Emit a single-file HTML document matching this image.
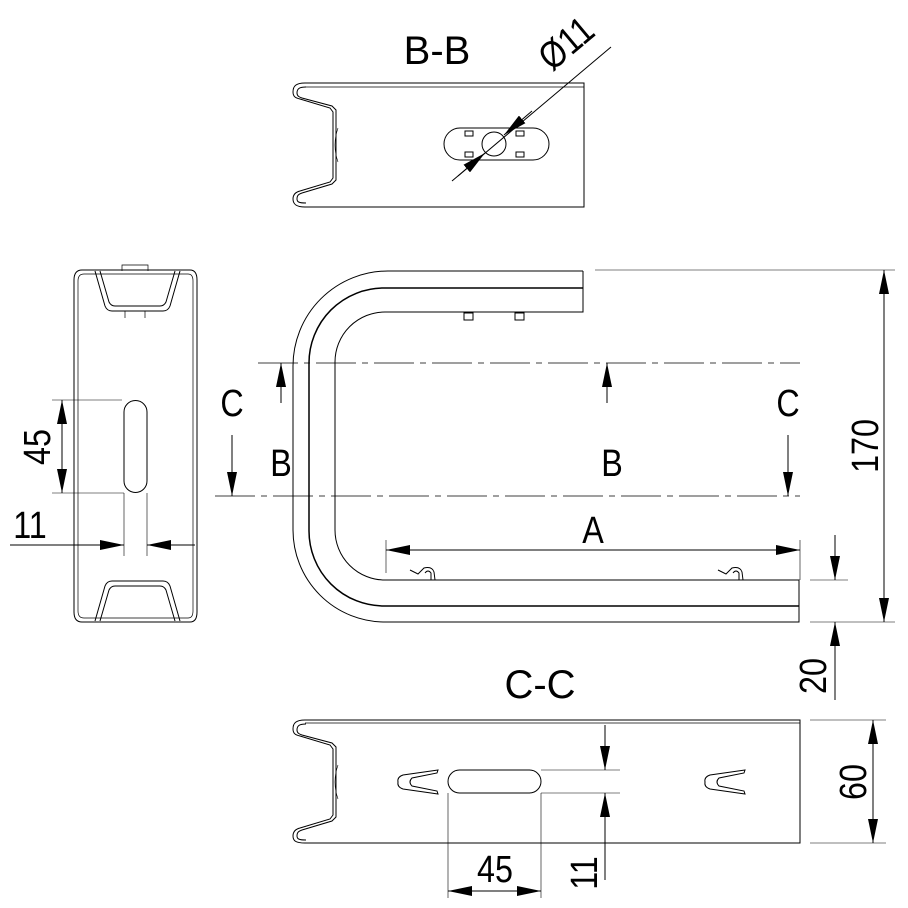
<!DOCTYPE html>
<html><head><meta charset="utf-8"><style>
html,body{margin:0;padding:0;background:#fff;}
svg{display:block;}
text{font-family:"Liberation Sans",sans-serif;fill:#000;}
</style></head><body>
<svg width="908" height="908" viewBox="0 0 908 908" xmlns="http://www.w3.org/2000/svg">
<defs>
<marker id="ar" viewBox="0 0 24 10" refX="24" refY="5" markerWidth="24" markerHeight="10" markerUnits="userSpaceOnUse" orient="auto"><path d="M0,0 L24,5 L0,10 Z" fill="#000"/></marker>
</defs>
<g fill="none" stroke="#000" stroke-width="1">

<!-- B-B view -->
<path d="M305,83 H584 V207 H305"/>
<path d="M305,87 H584" stroke-width="0.8"/>
<path d="M305,83 C296,83 293,86 293,92 C293,97 296,98 300,99 L330,108 L333,112 V178 L330,182 L300,191 C296,192 293,194 293,199 C293,204 296,207 305,207"/>
<path d="M306,87 C299,87 297,89 297,93 C297,96 299,97 302,98 L332,106 L336,110 V180 L332,184 L302,193 C299,194 297,195 297,199 C297,202 299,203 306,203"/>
<path d="M338,128 Q332,145 338,162" stroke-width="0.6"/>
<path d="M460,128 H533 A16,16 0 0 1 533,160 H460 A16,16 0 0 1 460,128 Z"/>
<rect x="465" y="131" width="8" height="5"/><rect x="465" y="152" width="8" height="5"/>
<rect x="516" y="131" width="8" height="5"/><rect x="516" y="152" width="8" height="5"/>
<circle cx="494" cy="144" r="12"/>
<line x1="452" y1="181" x2="611" y2="47"/>
<line x1="532" y1="111" x2="504" y2="135" marker-end="url(#ar)"/>
<line x1="458" y1="176" x2="485" y2="153" marker-end="url(#ar)"/>

<!-- Main U -->
<path d="M583,271 H388 A95,95 0 0 0 293,366 V530 A92,92 0 0 0 385,622 H799 V580 H385 A50,50 0 0 1 335,530 V362 A50,50 0 0 1 385,312 H583 V271"/>
<path d="M583,288 H384 A75,75 0 0 0 309,363 V531 A75,75 0 0 0 384,606 H799" stroke-width="1.5"/>
<rect x="464" y="313" width="9" height="7"/><rect x="515" y="313" width="9" height="7"/>
<path d="M410,570 L418,574 L424,568 Q432,566 434,572 L435,580 M425,573 Q428,569 431,573 L431,580"/>
<path d="M718,570 L726,574 L732,568 Q740,566 742,572 L743,580 M733,573 Q736,569 739,573 L739,580"/>
<path d="M258,363 H800" stroke-dasharray="40,6,6,6" stroke-width="0.8"/>
<path d="M215,496 H800" stroke-dasharray="40,6,6,6" stroke-width="0.8"/>
<line x1="281" y1="403" x2="281" y2="363" marker-end="url(#ar)"/>
<line x1="607" y1="403" x2="607" y2="363" marker-end="url(#ar)"/>
<line x1="232" y1="435" x2="232" y2="496" marker-end="url(#ar)"/>
<line x1="788" y1="435" x2="788" y2="496" marker-end="url(#ar)"/>
<!-- A -->
<line x1="386" y1="540" x2="386" y2="573" stroke-width="0.6"/>
<line x1="800" y1="540" x2="800" y2="580" stroke-width="0.6"/>
<line x1="593" y1="550" x2="386" y2="550" marker-end="url(#ar)"/>
<line x1="593" y1="550" x2="800" y2="550" marker-end="url(#ar)"/>
<!-- 170 -->
<line x1="595" y1="270" x2="895" y2="270" stroke-width="0.6"/>
<line x1="810" y1="622" x2="895" y2="622" stroke-width="0.6"/>
<line x1="884" y1="446" x2="884" y2="270" marker-end="url(#ar)"/>
<line x1="884" y1="446" x2="884" y2="622" marker-end="url(#ar)"/>
<!-- 20 -->
<line x1="810" y1="580" x2="848" y2="580" stroke-width="0.6"/>
<line x1="835" y1="535" x2="835" y2="580" marker-end="url(#ar)"/>
<line x1="835" y1="700" x2="835" y2="622" marker-end="url(#ar)"/>

<!-- Left view -->
<path d="M82,270 H190 Q197,270 197,280 V612 Q197,622 190,622 H82 Q74,622 74,612 V280 Q74,270 82,270 Z"/>
<path d="M84,274 H188 Q193,274 193,281 V611 Q193,618 188,618 H84 Q78,618 78,611 V281 Q78,274 84,274 Z" stroke-width="0.7"/>
<path d="M95,271 L105,306 Q107,311 112,311 H163 Q168,311 170,306 L180,271"/>
<path d="M100,271 L109,302 Q111,306 115,306 H160 Q164,306 166,302 L175,271"/>
<path d="M122,271 V265 H148 V271" stroke-width="0.7"/>
<path d="M125,311 V318 M145,311 V318" stroke-width="0.7"/>
<path d="M95,621 L105,586 Q107,581 112,581 H163 Q168,581 170,586 L180,621"/>
<path d="M100,621 L109,590 Q111,586 115,586 H160 Q164,586 166,590 L175,621"/>
<path d="M124,412 A11.5,11.5 0 0 1 147,412 V481 A11.5,11.5 0 0 1 124,481 Z"/>
<line x1="52" y1="400" x2="122" y2="400" stroke-width="0.6"/>
<line x1="52" y1="493" x2="124" y2="493" stroke-width="0.6"/>
<line x1="124" y1="493" x2="124" y2="556" stroke-width="0.6"/>
<line x1="147" y1="493" x2="147" y2="556" stroke-width="0.6"/>
<line x1="62" y1="446" x2="62" y2="400" marker-end="url(#ar)"/>
<line x1="62" y1="446" x2="62" y2="493" marker-end="url(#ar)"/>
<line x1="10" y1="545" x2="124" y2="545" marker-end="url(#ar)"/>
<line x1="195" y1="545" x2="147" y2="545" marker-end="url(#ar)"/>

<!-- C-C view -->
<path d="M305,720 H800 V843 H305"/>
<path d="M305,723 H800" stroke-width="0.7"/>
<path d="M305,720 C296,720 293,723 293,729 C293,734 296,735 300,736 L330,745 L333,749 V815 L330,819 L300,828 C296,829 293,831 293,836 C293,841 296,843 305,843"/>
<path d="M306,724 C299,724 297,726 297,730 C297,733 299,734 302,735 L332,743 L336,747 V817 L332,821 L302,830 C299,831 297,832 297,836 C297,839 299,840 306,840"/>
<path d="M338,765 Q332,782 338,799" stroke-width="0.6"/>
<path d="M438,770 L403,775 Q397,777 398,782 Q397,787 403,789 L438,794 L437,791 L412,786 Q408,782 412,778 L437,773 Z"/>
<path d="M745,770 L710,775 Q704,777 705,782 Q704,787 710,789 L745,794 L744,791 L719,786 Q715,782 719,778 L744,773 Z"/>
<path d="M459.5,770 H529.5 A11.5,11.5 0 0 1 529.5,793 H459.5 A11.5,11.5 0 0 1 459.5,770 Z"/>
<line x1="541" y1="770" x2="620" y2="770" stroke-width="0.6"/>
<line x1="541" y1="793" x2="620" y2="793" stroke-width="0.6"/>
<line x1="448" y1="793" x2="448" y2="898" stroke-width="0.6"/>
<line x1="541" y1="793" x2="541" y2="898" stroke-width="0.6"/>
<line x1="495" y1="891" x2="448" y2="891" marker-end="url(#ar)"/>
<line x1="495" y1="891" x2="541" y2="891" marker-end="url(#ar)"/>
<line x1="605" y1="725" x2="605" y2="770" marker-end="url(#ar)"/>
<line x1="605" y1="880" x2="605" y2="793" marker-end="url(#ar)"/>
<line x1="810" y1="720" x2="886" y2="720" stroke-width="0.6"/>
<line x1="810" y1="843" x2="886" y2="843" stroke-width="0.6"/>
<line x1="873" y1="782" x2="873" y2="720" marker-end="url(#ar)"/>
<line x1="873" y1="782" x2="873" y2="843" marker-end="url(#ar)"/>
</g>

<g font-size="40">
<text x="437" y="64" text-anchor="middle">B-B</text>
<text x="540" y="698" text-anchor="middle">C-C</text>
</g>
<g font-size="38">
<text transform="translate(552 72) rotate(-40) scale(0.85 1)">Ø11</text>
<text text-anchor="middle" transform="translate(281 476) scale(0.85 1)">B</text>
<text text-anchor="middle" transform="translate(612 476) scale(0.85 1)">B</text>
<text text-anchor="middle" transform="translate(232 416) scale(0.85 1)">C</text>
<text text-anchor="middle" transform="translate(788 416) scale(0.85 1)">C</text>
<text text-anchor="middle" transform="translate(593 543) scale(0.85 1)">A</text>
<text text-anchor="middle" transform="translate(30 538) scale(0.85 1)">11</text>
<text text-anchor="middle" transform="translate(495 882) scale(0.85 1)">45</text>
<text transform="translate(50 447) rotate(-90) scale(0.85 1)" text-anchor="middle">45</text>
<text transform="translate(878 446) rotate(-90) scale(0.85 1)" text-anchor="middle">170</text>
<text transform="translate(826 676) rotate(-90) scale(0.85 1)" text-anchor="middle">20</text>
<text transform="translate(866 782) rotate(-90) scale(0.85 1)" text-anchor="middle">60</text>
<text transform="translate(597 873) rotate(-90) scale(0.85 1)" text-anchor="middle">11</text>
</g>
</svg>
</body></html>
